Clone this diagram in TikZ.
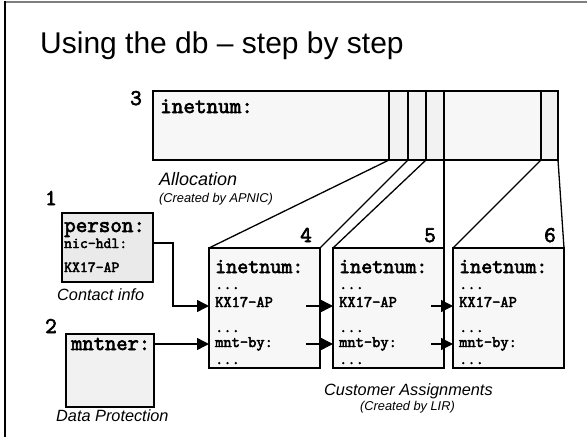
\documentclass[tikz,border=0pt]{standalone}
\usepackage{fontspec}
\setmainfont{Liberation Sans}
\newfontfamily\codefont{Latin Modern Mono}[FakeBold=3]
\usetikzlibrary{arrows.meta,calc}

\definecolor{boxfill}{HTML}{F7F7F7}
\definecolor{cellfill}{HTML}{F2F2F2}
\definecolor{personfill}{HTML}{EAEAEA}
\definecolor{mntfill}{HTML}{F1F1F1}
\definecolor{framegray}{HTML}{7F7F7F}

\begin{document}
\begin{tikzpicture}[x=1pt,y=-1pt,
  objbox/.style={draw,line width=1.6pt,inner sep=0pt,outer sep=0pt,anchor=north west},
  cellbox/.style={draw,line width=1.6pt,fill=cellfill,inner sep=0pt,outer sep=0pt,
    anchor=north west,minimum height=69pt},
  link/.style={line width=1.3pt},
  arr/.style={line width=1.4pt,-{Triangle[length=12pt,width=12pt]}},
  mbig/.style={inner sep=0pt,anchor=base west,font=\codefont\fontsize{21.4}{22}\selectfont},
  msmall/.style={inner sep=0pt,anchor=base west,font=\codefont\fontsize{16}{17}\selectfont},
  stepnum/.style={inner sep=0pt,anchor=base west,font=\codefont\fontsize{22.5}{23}\selectfont},
  caption/.style={inner sep=0pt,anchor=base west,font=\itshape\fontsize{16.3}{18}\selectfont},
  subcaption/.style={inner sep=0pt,anchor=base west,font=\itshape\fontsize{12.8}{14}\selectfont},
]
\useasboundingbox (0,0) rectangle (587,437);

% slide frame
\draw[framegray,line width=2pt] (5,1.5) -- (587,1.5);
\draw[line width=1.4pt] (5,1) -- (5,437);

% title
\node[inner sep=0pt,anchor=base west,font=\fontsize{30}{34}\selectfont] (title) at (40,53)
  {Using the db -- step by step};

% step 3: the allocation with its sub-ranges
\node[objbox,fill=boxfill,minimum width=405pt,minimum height=69pt] (alloc) at (153,91) {};
\node[cellbox,minimum width=19pt] (cella) at (389,91) {};
\node[cellbox,minimum width=18pt] (cellb) at (408,91) {};
\node[cellbox,minimum width=18pt] (cellc) at (426,91) {};
\node[cellbox,minimum width=17pt] (celld) at (541,91) {};
\node[mbig,font=\codefont\fontsize{22.5}{23}\selectfont] (alloc-t) at (160,113) {inetnum:};
\node[stepnum] (n3) at (130,105) {3};
\node[caption,font=\itshape\fontsize{18}{20}\selectfont] (alloc-c) at (159,185) {Allocation};
\node[subcaption] (alloc-s) at (159,202) {(Created by APNIC)};

% step 1: person object
\node[objbox,fill=personfill,minimum width=91pt,minimum height=69pt] (person) at (62,213) {};
\node[mbig,font=\codefont\fontsize{22.4}{23}\selectfont] (person-t) at (64,232) {person:};
\node[msmall,font=\codefont\fontsize{15.3}{16}\selectfont] (person-h) at (64,248) {nic-hdl:};
\node[msmall,font=\codefont\fontsize{15.3}{16}\selectfont] (person-k) at (64,272) {KX17-AP};
\node[stepnum] (n1) at (45,205) {1};
\node[caption] (person-c) at (57,300) {Contact info};

% step 2: maintainer object
\node[objbox,fill=mntfill,minimum width=88pt,minimum height=73pt] (mntner) at (66,334) {};
\node[mbig,font=\codefont\fontsize{21.9}{22}\selectfont] (mntner-t) at (71,350) {mntner:};
\node[stepnum] (n2) at (45,333) {2};
\node[caption] (mntner-c) at (56,421) {Data Protection};

% steps 4-6: customer assignments
\foreach \i/\x in {4/209,5/333,6/453}{
  \node[objbox,fill=boxfill,minimum width=111pt,minimum height=120pt] (b\i) at (\x,248) {};
  \node[mbig] (b\i-t) at (\x+6,273) {inetnum:};
  \node[msmall] (b\i-d1) at (\x+6,289) {...};
  \node[msmall] (b\i-k) at (\x+6,307) {KX17-AP};
  \node[msmall] (b\i-d2) at (\x+6,332) {...};
  \node[msmall] (b\i-m) at (\x+6,347) {mnt-by:};
  \node[msmall] (b\i-d3) at (\x+6,364) {...};
  \node[stepnum] (n\i) at (\x+91,242) {\i};
}
\node[caption] (assign-c) at (324,395) {Customer Assignments};
\node[subcaption] (assign-s) at (360,410) {(Created by LIR)};

% sub-ranges fanned out to their assignments
\draw[link] (cella.south west) -- (b4.north west);
\draw[link] (cella.south east) -- (b4.north east);
\draw[link] (cellc.south west) -- (b5.north west);
\draw[link] (cellc.south east) -- (b5.north east);
\draw[link] (celld.south west) -- (b6.north west);
\draw[link] (celld.south east) -- (b6.north east);

% references between objects
\coordinate (row1) at (0,306);
\coordinate (row2) at (0,344);
\draw[arr] ([yshift=4.5pt]person.east) -- ++(20,0) |- (b4.west |- row1);
\draw[arr] (mntner.east |- row2) -- (b4.west |- row2);
\draw[arr] ($(b4.east |- row1)+(-14,0)$) -- (b5.west |- row1);
\draw[arr] ($(b4.east |- row2)+(-14,0)$) -- (b5.west |- row2);
\draw[arr] ($(b5.east |- row1)+(-13,0)$) -- (b6.west |- row1);
\draw[arr] ($(b5.east |- row2)+(-13,0)$) -- (b6.west |- row2);
\end{tikzpicture}
\end{document}
